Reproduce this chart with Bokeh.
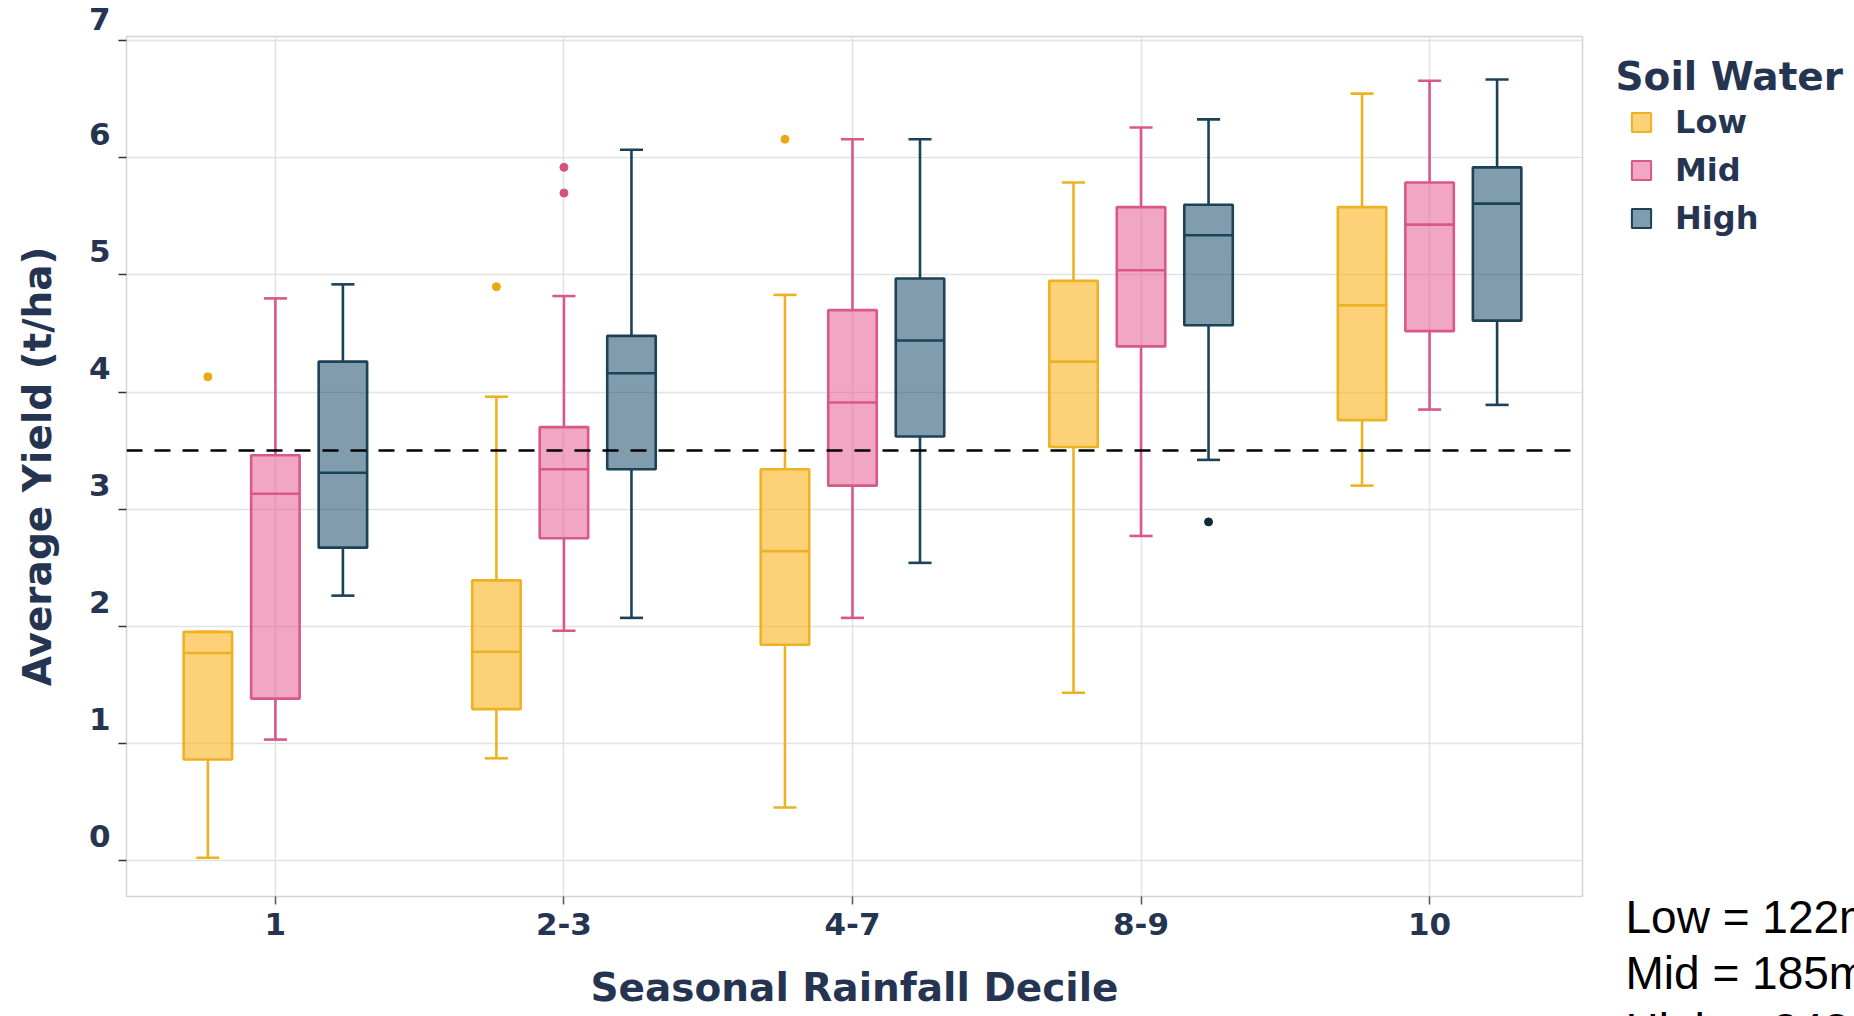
from bokeh.plotting import figure
from bokeh.models import (Range1d, FixedTicker, Legend, LegendItem, Span, ColumnDataSource)
from bokeh.transform import dodge
from bokeh.core.properties import value
from bokeh.layouts import row
from bokeh.embed import file_html
from bokeh.resources import INLINE

# ---------------- data ----------------
categories = ["1", "2-3", "4-7", "8-9", "10"]
groups = ["Low", "Mid", "High"]

low_lower = [0.02, 0.87, 0.45, 1.43, 3.20]
low_q1 = [0.86, 1.29, 1.84, 3.53, 3.76]
low_median = [1.77, 1.78, 2.64, 4.26, 4.74]
low_q3 = [1.95, 2.39, 3.34, 4.95, 5.58]
low_upper = [1.95, 3.96, 4.83, 5.79, 6.55]
low_out_cat = ["1", "2-3", "4-7"]
low_out_val = [4.13, 4.90, 6.16]

mid_lower = [1.03, 1.96, 2.07, 2.77, 3.85]
mid_q1 = [1.38, 2.75, 3.20, 4.39, 4.52]
mid_median = [3.13, 3.34, 3.91, 5.04, 5.43]
mid_q3 = [3.46, 3.70, 4.70, 5.58, 5.79]
mid_upper = [4.80, 4.82, 6.16, 6.26, 6.66]
mid_out_cat = ["2-3", "2-3"]
mid_out_val = [5.92, 5.70]

high_lower = [2.26, 2.07, 2.54, 3.42, 3.89]
high_q1 = [2.67, 3.34, 3.62, 4.57, 4.61]
high_median = [3.31, 4.16, 4.44, 5.34, 5.61]
high_q3 = [4.26, 4.48, 4.97, 5.60, 5.92]
high_upper = [4.92, 6.07, 6.16, 6.33, 6.67]
high_out_cat = ["8-9"]
high_out_val = [2.89]

threshold = 3.5
y_ticks = [0, 1, 2, 3, 4, 5, 6, 7]
legend_title = "Soil Water"
notes = ["Low = 122mm", "Mid = 185mm", "High = 243mm"]

# ---------------- styling ----------------
NAVY = "#253551"
FONT = "DejaVu Sans"
styles = {
    "Low": dict(line="#EDB224", fill="#FCB424", alpha=0.62, out="#E9A90C"),
    "Mid": dict(line="#D9588A", fill="#E55C8E", alpha=0.55, out="#D6527F"),
    "High": dict(line="#1B4257", fill="#1F4E6B", alpha=0.56, out="#0B2F3A"),
}
offsets = {"Low": -0.234, "Mid": 0.0, "High": 0.234}
BOX_W = 0.168
CAP_W = 0.08
LW = 2.6

xpos = list(range(1, len(categories) + 1))

# ---------------- main chart ----------------
p = figure(frame_width=1456, frame_height=860,
           x_range=Range1d(0.484, 5.53), y_range=Range1d(-0.311, 7.038),
           output_backend="svg", toolbar_location=None,
           min_border_left=126, min_border_top=36, min_border_right=17,
           min_border_bottom=120)
p.frame_align = False
p.background_fill_color = "white"
p.border_fill_color = "white"
p.outline_line_color = "#D4D4D4"
p.outline_line_width = 1.5

p.xgrid.grid_line_color = "#E2E2E2"
p.ygrid.grid_line_color = "#E2E2E2"
p.xgrid.grid_line_width = 1.5
p.ygrid.grid_line_width = 1.5

xax = p.xaxis[0]
xax.ticker = FixedTicker(ticks=xpos)
xax.major_label_overrides = {i: c for i, c in zip(xpos, categories)}
xax.axis_line_color = None
xax.major_tick_in = 0
xax.major_tick_out = 8
xax.major_tick_line_color = "#555555"
xax.major_tick_line_width = 1.5
xax.minor_tick_line_color = None
xax.major_label_text_font = FONT
xax.major_label_text_font_style = "bold"
xax.major_label_text_font_size = "31px"
xax.major_label_text_color = NAVY
xax.major_label_standoff = 8
xax.axis_label = "Seasonal Rainfall Decile"
xax.axis_label_text_font = FONT
xax.axis_label_text_font_style = "bold"
xax.axis_label_text_font_size = "39px"
xax.axis_label_text_color = NAVY
xax.axis_label_standoff = 27

yax = p.yaxis[0]
yax.ticker = FixedTicker(ticks=y_ticks)
# tick labels sit above their ticks in the reference: an empty second line lifts them
yax.major_label_overrides = {v: f"{v}\n " for v in y_ticks}
yax.major_label_text_line_height = 1.35
yax.axis_line_color = None
yax.major_tick_in = 0
yax.major_tick_out = 8
yax.major_tick_line_color = "#333333"
yax.major_tick_line_width = 1.5
yax.minor_tick_line_color = None
yax.major_label_standoff = 8
yax.major_label_text_font = FONT
yax.major_label_text_font_style = "bold"
yax.major_label_text_font_size = "31px"
yax.major_label_text_color = NAVY
yax.axis_label = "Average Yield (t/ha)"
yax.axis_label_text_font = FONT
yax.axis_label_text_font_style = "bold"
yax.axis_label_text_font_size = "39px"
yax.axis_label_text_color = NAVY
yax.axis_label_standoff = 26

series = {
    "Low": (low_lower, low_q1, low_median, low_q3, low_upper, low_out_cat, low_out_val),
    "Mid": (mid_lower, mid_q1, mid_median, mid_q3, mid_upper, mid_out_cat, mid_out_val),
    "High": (high_lower, high_q1, high_median, high_q3, high_upper, high_out_cat, high_out_val),
}

for g in groups:
    lo, q1, med, q3, hi, oc, ov = series[g]
    st = styles[g]
    off = offsets[g]
    src = ColumnDataSource(dict(x=xpos, lo=lo, q1=q1, med=med, q3=q3, hi=hi))
    p.segment(x0=dodge("x", off), x1=dodge("x", off), y0="q3", y1="hi",
              source=src, line_color=st["line"], line_width=LW)
    p.segment(x0=dodge("x", off), x1=dodge("x", off), y0="q1", y1="lo",
              source=src, line_color=st["line"], line_width=LW)
    p.segment(x0=dodge("x", off - CAP_W / 2), x1=dodge("x", off + CAP_W / 2),
              y0="hi", y1="hi", source=src, line_color=st["line"], line_width=LW)
    p.segment(x0=dodge("x", off - CAP_W / 2), x1=dodge("x", off + CAP_W / 2),
              y0="lo", y1="lo", source=src, line_color=st["line"], line_width=LW)
    p.vbar(x=dodge("x", off), width=BOX_W, bottom="q1", top="q3", source=src,
           fill_color=st["fill"], fill_alpha=st["alpha"],
           line_color=st["line"], line_width=LW)
    p.segment(x0=dodge("x", off - BOX_W / 2), x1=dodge("x", off + BOX_W / 2),
              y0="med", y1="med", source=src, line_color=st["line"], line_width=LW)
    osrc = ColumnDataSource(dict(x=[categories.index(c) + 1 for c in oc], y=ov))
    p.scatter(x=dodge("x", off), y="y", source=osrc, size=8,
              fill_color=st["out"], line_color=st["out"])

p.add_layout(Span(location=threshold, dimension="width", line_color="black",
                  line_width=2.6, line_dash="16 12"))

# ---------------- side panel: legend + notes (page pixel coordinates) ----------------
SIDE_X0 = 1599
side = figure(width=1854 - SIDE_X0, height=1016,
              x_range=Range1d(SIDE_X0, 1854), y_range=Range1d(1016, 0),
              x_axis_type=None, y_axis_type=None, output_backend="svg",
              toolbar_location=None, min_border=0)
side.frame_align = False
side.title.visible = False
side.outline_line_color = None
side.background_fill_color = "white"
side.border_fill_color = "white"
side.xgrid.visible = False
side.ygrid.visible = False

# legend swatches: one off-screen point each so the legend has a glyph to draw
items = []
for g in groups:
    st = styles[g]
    r = side.scatter(x=[0], y=[0], marker="square", fill_color=st["fill"],
                     fill_alpha=st["alpha"], line_color=st["line"], line_width=2)
    items.append(LegendItem(label=g, renderers=[r]))

legend = Legend(items=items, location=(16, 774.5))
legend.label_text_font = FONT
legend.label_text_font_style = "bold"
legend.label_text_font_size = "32px"
legend.label_text_color = NAVY
legend.glyph_width = 52
legend.glyph_height = 48
legend.label_standoff = 8
legend.label_height = 36
legend.spacing = 0
legend.padding = 0
legend.margin = 0
legend.border_line_color = None
legend.background_fill_alpha = 0
side.add_layout(legend)

side.text(x=[1615], y=[75.5], text=[legend_title], text_font=value(FONT),
          text_font_style="bold", text_font_size="39px", text_color=NAVY,
          text_baseline="middle")

note_x0, note_y0, note_dy = 1625, 916, 56.5
side.text(x=[note_x0] * len(notes), y=[note_y0 + i * note_dy for i in range(len(notes))],
          text=notes, text_font=value("Liberation Sans"), text_font_size="46px",
          text_color="black", text_baseline="middle")

layout = row(p, side, spacing=0)
open("out.html", "w").write(file_html(layout, INLINE))
